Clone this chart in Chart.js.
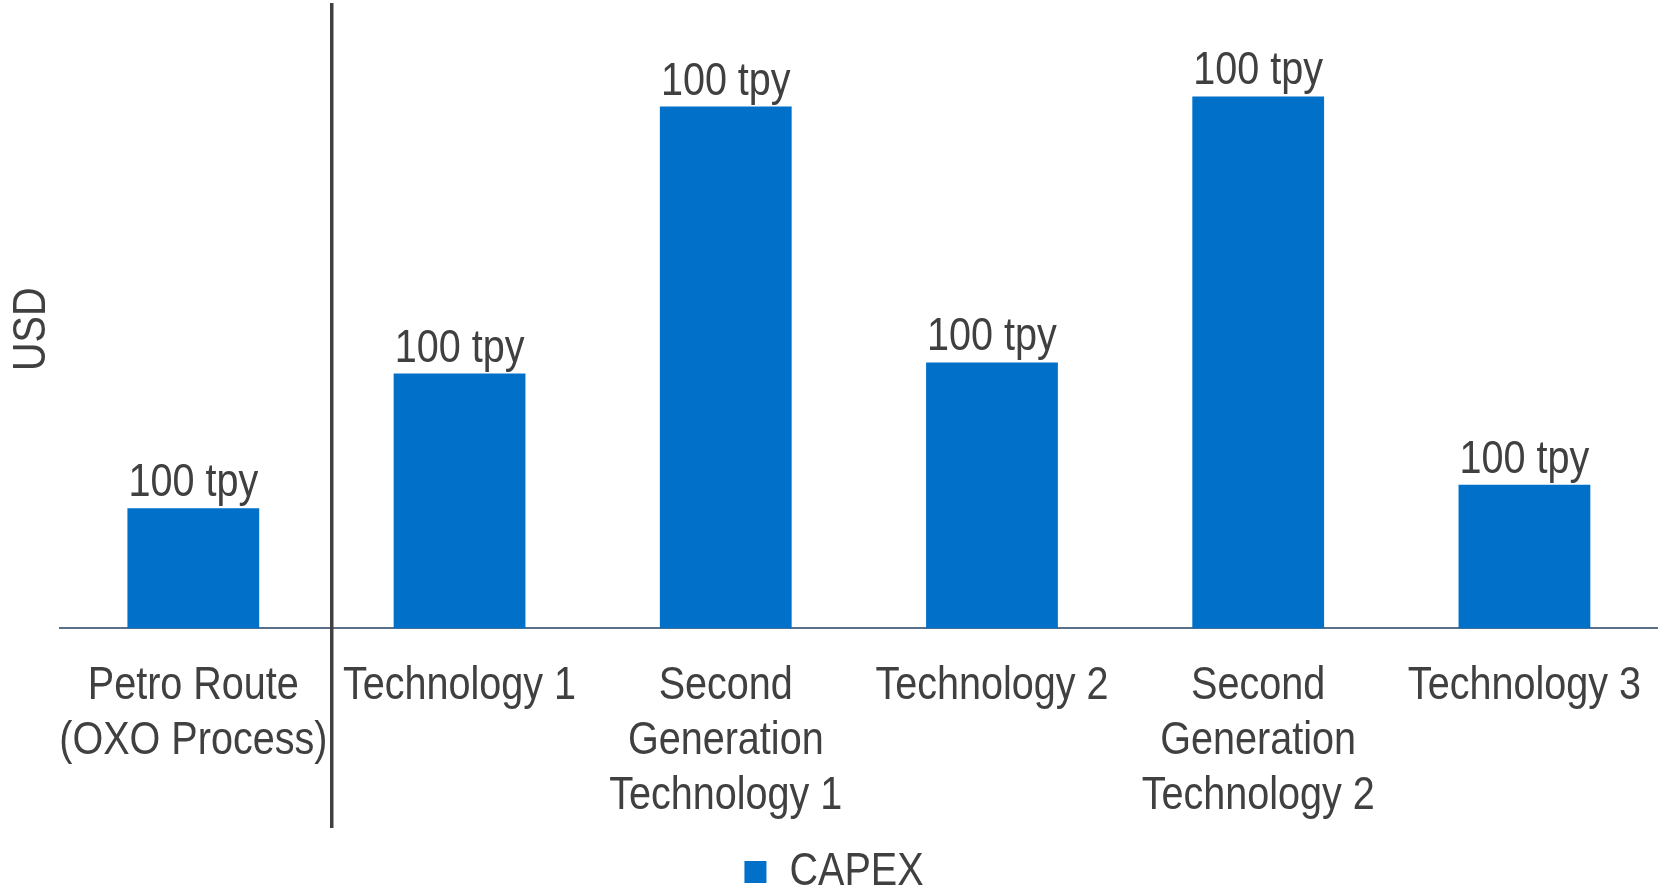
<!DOCTYPE html>
<html lang="en">
<head>
    <meta charset="UTF-8">
    <script src="https://cdn.jsdelivr.net/npm/chart.js@4.4.1/dist/chart.umd.min.js"></script>
    <title>CAPEX comparison</title>
    <style>
        html, body { margin: 0; padding: 0; background: #fff; }
        #chartContainer { width: 1663px; height: 891px; }
    </style>
</head>
<body>
    <div id="chartContainer">
        <canvas id="chart"></canvas>
    </div>
    <script>
        // data (relative units, no y ticks shown)
        var categories = [
            ['Petro Route', '(OXO Process)'],
            'Technology 1',
            ['Second', 'Generation', 'Technology 1'],
            'Technology 2',
            ['Second', 'Generation', 'Technology 2'],
            'Technology 3'
        ];
        var capex = [22.6, 47.9, 98.1, 50.0, 100, 27.0];
        var barLabels = ['100 tpy', '100 tpy', '100 tpy', '100 tpy', '100 tpy', '100 tpy'];

        var FONT = "'Liberation Sans', Arial, sans-serif";
        var TEXT = '#404040';
        var BLUE = '#0070C9';
        var NARROW = 0.86; // no narrow face installed, so squeeze text horizontally

        const canvas = document.getElementById('chart');
        canvas.width = 1663;
        canvas.height = 891;
        const c2d = canvas.getContext('2d');

        // condensed text: scale each string around its anchor point
        const origFill = c2d.fillText.bind(c2d);
        const origMeasure = c2d.measureText.bind(c2d);
        c2d.fillText = function (txt, x, y, maxW) {
            c2d.save();
            c2d.translate(x, y);
            c2d.scale(NARROW, 1);
            if (maxW !== undefined) origFill(txt, 0, 0, maxW / NARROW);
            else origFill(txt, 0, 0);
            c2d.restore();
        };
        c2d.measureText = function (txt) {
            const m = origMeasure(txt);
            return { width: m.width * NARROW, actualBoundingBoxAscent: m.actualBoundingBoxAscent,
                     actualBoundingBoxDescent: m.actualBoundingBoxDescent };
        };

        // "100 tpy" above each bar + the divider after the petro route
        const extras = {
            id: 'extras',
            afterDatasetsDraw(chart) {
                const ctx = chart.ctx;
                const meta = chart.getDatasetMeta(0);
                ctx.save();
                ctx.fillStyle = TEXT;
                ctx.font = '46px ' + FONT;
                ctx.textAlign = 'center';
                ctx.textBaseline = 'alphabetic';
                meta.data.forEach(function (bar, i) {
                    ctx.fillText(barLabels[i], bar.x, bar.y - 12);
                });
                const xs = chart.scales.x;
                const step = xs.getPixelForValue(1) - xs.getPixelForValue(0);
                const divX = (xs.getPixelForValue(0) + xs.getPixelForValue(1)) / 2 + step * 0.02;
                ctx.strokeStyle = '#404040';
                ctx.lineWidth = 3.5;
                ctx.beginPath();
                ctx.moveTo(divX, 3);
                ctx.lineTo(divX, xs.bottom - 18);
                ctx.stroke();
                ctx.restore();
            }
        };

        const config = {
            type: 'bar',
            data: {
                labels: categories,
                datasets: [{
                    label: 'CAPEX',
                    data: capex,
                    backgroundColor: BLUE,
                    borderWidth: 0,
                    categoryPercentage: 1,
                    barPercentage: 0.495
                }]
            },
            options: {
                responsive: false,
                animation: false,
                layout: { padding: { top: 30, right: -2, bottom: -14, left: 3 } },
                plugins: {
                    legend: {
                        position: 'bottom',
                        labels: {
                            color: TEXT,
                            font: { size: 46, family: FONT },
                            boxWidth: 22,
                            boxHeight: 22,
                            padding: 3
                        }
                    },
                    tooltip: { enabled: false }
                },
                scales: {
                    x: {
                        grid: { display: false },
                        border: { display: true, color: '#5a7088', width: 2 },
                        ticks: {
                            color: TEXT,
                            font: { size: 46, family: FONT, lineHeight: 1.2 },
                            maxRotation: 0,
                            autoSkip: false,
                            padding: 22
                        }
                    },
                    y: {
                        min: 0,
                        max: 112.5,
                        grid: { display: false, drawTicks: false },
                        border: { display: false },
                        ticks: { display: false },
                        title: {
                            display: true,
                            text: 'USD',
                            color: TEXT,
                            font: { size: 46, family: FONT },
                            padding: { top: 2, bottom: 0 }
                        }
                    }
                }
            },
            plugins: [extras]
        };

        new Chart(c2d, config);
    </script>
</body>
</html>
